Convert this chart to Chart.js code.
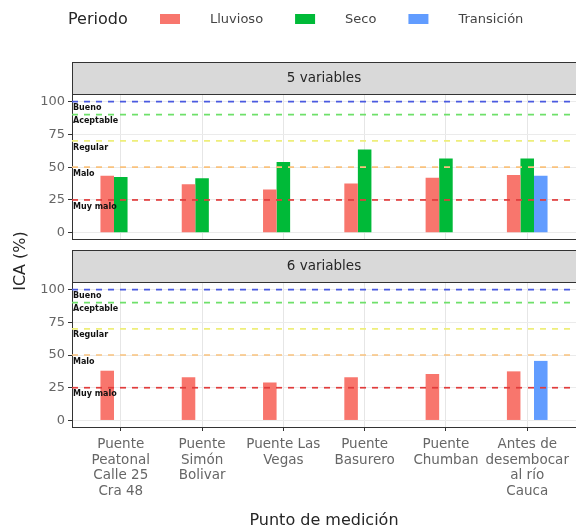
<!DOCTYPE html>
<html>
<head>
<meta charset="utf-8">
<script src="https://cdn.jsdelivr.net/npm/chart.js@4.4.1/dist/chart.umd.min.js"></script>
<style>
  html, body { margin: 0; padding: 0; background: #ffffff; }
  #wrap { position: relative; width: 576px; height: 531px; overflow: hidden; }
  #wrap canvas { position: absolute; left: 0; top: 0; }
</style>
</head>
<body>
<div id="wrap">
  <canvas id="panelTop" width="576" height="531"></canvas>
  <canvas id="panelBottom" width="576" height="531"></canvas>
</div>
<script>
// Sampling points along the river (multi-line tick labels)
const puntos = [
  ["Puente", "Peatonal", "Calle 25", "Cra 48"],
  ["Puente", "Simón", "Bolivar"],
  ["Puente Las", "Vegas"],
  ["Puente", "Basurero"],
  ["Puente", "Chumban"],
  ["Antes de", "desembocar", "al río", "Cauca"]
];
const periodos = ["Lluvioso", "Seco", "Transición"];
const coloresPeriodo = ["#F8766D", "#00BA38", "#619CFF"];
const paneles = ["5 variables", "6 variables"];

// ICA (%) computed with 5 variables
const ica5Lluvioso   = [43.5, 37, 33, 37.5, 42, 44];
const ica5Seco       = [42.5, 41.5, 54, 63.5, 56.5, 56.5];
const ica5Transicion = [null, null, null, null, null, 43.5];

// ICA (%) computed with 6 variables
const ica6Lluvioso   = [38, 33, 29, 33, 35.5, 37.5];
const ica6Seco       = [null, null, null, null, null, null];
const ica6Transicion = [null, null, null, null, null, 45.5];

// Water-quality class limits
const umbrales = [100, 90, 70, 50, 25];
const clases = ["Bueno", "Aceptable", "Regular", "Malo", "Muy malo"];
const coloresUmbral = ["#4a5ae0", "#6ee06a", "#eeee7a", "#f9c27e", "#e03c3c"];

const ticksY = [0, 25, 50, 75, 100];

const FONT = "'DejaVu Sans', sans-serif";
Chart.defaults.font.family = FONT;

// Facet strip, class lines, legend and shared y title
const facetPlugin = {
  id: 'facet',
  beforeDraw(chart, args, opts) {
    const { ctx, chartArea: a } = chart;
    const h = 33;
    ctx.save();
    ctx.fillStyle = '#d9d9d9';
    ctx.fillRect(a.left, a.top - h, a.right - a.left + 2, h);
    ctx.strokeStyle = '#333333';
    ctx.lineWidth = 1;
    ctx.strokeRect(a.left + 0.5, a.top - h + 0.5, a.right - a.left + 2, h - 1);
    ctx.fillStyle = '#262626';
    ctx.font = "13.5px " + FONT;
    ctx.textAlign = 'center';
    ctx.textBaseline = 'middle';
    ctx.fillText(opts.titulo, (a.left + a.right) / 2, a.top - h / 2);
    ctx.restore();
  },
  afterDatasetsDraw(chart) {
    const { ctx, chartArea: a, scales: { y } } = chart;
    ctx.save();
    ctx.beginPath();
    ctx.rect(a.left, a.top, a.right - a.left, a.bottom - a.top);
    ctx.clip();
    ctx.lineWidth = 1.7;
    ctx.setLineDash([6, 6]);
    umbrales.forEach((u, i) => {
      const py = y.getPixelForValue(u);
      ctx.strokeStyle = coloresUmbral[i];
      ctx.beginPath();
      ctx.moveTo(a.left, py);
      ctx.lineTo(a.right, py);
      ctx.stroke();
    });
    ctx.setLineDash([]);
    ctx.fillStyle = '#111111';
    ctx.font = "bold 8px " + FONT;
    ctx.textAlign = 'left';
    ctx.textBaseline = 'middle';
    clases.forEach((c, i) => {
      ctx.fillText(c, a.left + 1, y.getPixelForValue(umbrales[i] - 5));
    });
    ctx.restore();
  },
  afterDraw(chart, args, opts) {
    const { ctx } = chart;
    if (opts.leyenda) {
      ctx.save();
      ctx.textBaseline = 'middle';
      ctx.textAlign = 'left';
      ctx.fillStyle = '#262626';
      ctx.font = "16px " + FONT;
      ctx.fillText('Periodo', 68, 20);
      ctx.font = "13px " + FONT;
      let x = 160;
      periodos.forEach((p, i) => {
        ctx.fillStyle = coloresPeriodo[i];
        ctx.fillRect(x, 14, 20, 10);
        ctx.fillStyle = '#444444';
        ctx.fillText(p, x + 50, 20);
        x += 50 + ctx.measureText(p).width + 32;
      });
      ctx.restore();
    }
    if (opts.tituloY) {
      ctx.save();
      ctx.translate(21, 261);
      ctx.rotate(-Math.PI / 2);
      ctx.fillStyle = '#262626';
      ctx.font = "16px " + FONT;
      ctx.textAlign = 'center';
      ctx.textBaseline = 'middle';
      ctx.fillText('ICA (%)', 0, 0);
      ctx.restore();
    }
  }
};

function panel(canvasId, titulo, series, conEjeX, padding) {
  const posiciones = puntos.map((_, i) => i + 1);
  return new Chart(document.getElementById(canvasId), {
    type: 'bar',
    data: {
      labels: posiciones,
      datasets: series.map((vals, i) => ({
        label: periodos[i],
        data: vals,
        backgroundColor: coloresPeriodo[i],
        borderWidth: 0,
        categoryPercentage: 0.5,
        barPercentage: 1
      }))
    },
    options: {
      responsive: false,
      animation: false,
      devicePixelRatio: 1,
      layout: { padding: padding },
      plugins: {
        legend: { display: false },
        tooltip: { enabled: false },
        facet: { titulo: titulo, leyenda: !conEjeX, tituloY: conEjeX }
      },
      scales: {
        x: {
          type: 'linear',
          min: 0.4,
          max: 6.6,
          offset: false,
          afterBuildTicks: ax => { ax.ticks = posiciones.map(v => ({ value: v })); },
          afterFit: ax => { ax.height = conEjeX ? 104 : 0; },
          ticks: {
            display: conEjeX,
            autoSkip: false,
            maxRotation: 0,
            minRotation: 0,
            color: '#666666',
            font: { size: 13.5, lineHeight: 1.15 },
            padding: 6,
            callback: v => puntos[Math.round(v) - 1]
          },
          grid: { color: '#e6e6e6', offset: false, drawTicks: conEjeX, tickLength: 4, tickColor: '#333333' },
          border: { display: true, color: '#333333', width: 1 },
          title: {
            display: conEjeX,
            text: 'Punto de medición',
            color: '#262626',
            font: { size: 16 },
            padding: { top: 0, bottom: 1 }
          }
        },
        y: {
          min: -5,
          max: 105,
          afterBuildTicks: ax => { ax.ticks = ticksY.map(v => ({ value: v })); },
          afterFit: ax => { ax.width = 72; },
          ticks: { color: '#666666', font: { size: 13 }, padding: 3 },
          grid: { color: '#ebebeb', tickLength: 4, tickColor: '#333333' },
          border: { display: true, color: '#333333', width: 1 }
        }
      }
    },
    plugins: [facetPlugin]
  });
}

panel('panelTop', paneles[0], [ica5Lluvioso, ica5Seco, ica5Transicion], false,
      { top: 95, bottom: 291.7, left: 0, right: 0 });
panel('panelBottom', paneles[1], [ica6Lluvioso, ica6Seco, ica6Transicion], true,
      { top: 283, bottom: 0, left: 0, right: 0 });
</script>
</body>
</html>
